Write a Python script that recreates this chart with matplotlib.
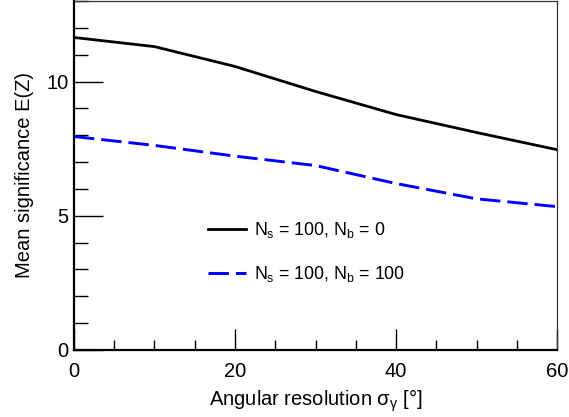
import matplotlib
matplotlib.use("Agg")
import matplotlib.pyplot as plt
from matplotlib.ticker import MultipleLocator

plt.rcParams['font.family'] = ['Liberation Sans', 'DejaVu Sans']
plt.rcParams['mathtext.fontset'] = 'custom'
plt.rcParams['mathtext.rm'] = 'Liberation Sans'
plt.rcParams['mathtext.it'] = 'Liberation Sans:italic'

# angular resolution in degrees
sigma = [0, 10, 20, 30, 40, 50, 60]
# mean significance for the two signal/background cases
z_nb0 = [11.64, 11.30, 10.56, 9.63, 8.77, 8.10, 7.46]
z_nb100 = [7.95, 7.62, 7.22, 6.87, 6.20, 5.63, 5.34]

fig = plt.figure(figsize=(5.69, 4.17), dpi=100)
ax = fig.add_axes([0.130, 0.1607, 0.849, 0.837])

ax.plot(sigma, z_nb0, color='black', lw=2.0,
        label='N$_\\mathregular{s}$ = 100, N$_\\mathregular{b}$ = 0')
ax.plot(sigma, z_nb100, color='#0000ff', lw=2.1, dashes=(7.0, 2.4),
        label='N$_\\mathregular{s}$ = 100, N$_\\mathregular{b}$ = 100')

ax.set_xlim(0, 60)
ax.set_ylim(0, 13)
ax.xaxis.set_major_locator(MultipleLocator(20))
ax.xaxis.set_minor_locator(MultipleLocator(5))
ax.yaxis.set_major_locator(MultipleLocator(5))
ax.yaxis.set_minor_locator(MultipleLocator(1))

ax.tick_params(axis='x', which='major', direction='in', length=15, width=1, labelsize=14.5, pad=9)
ax.tick_params(axis='x', which='minor', direction='in', length=7, width=1)
ax.tick_params(axis='y', which='major', direction='in', length=21, width=1, labelsize=14.5, pad=4)
ax.tick_params(axis='y', which='minor', direction='in', length=10, width=1)

for side in ['left', 'bottom']:
    ax.spines[side].set_linewidth(1.6)
for side in ['top', 'right']:
    ax.spines[side].set_linewidth(0.9)
    ax.spines[side].set_color('#333333')

ax.set_xlabel('Angular resolution σ$_{\\mathregular{γ}}$ [°]', fontsize=14.5, labelpad=4)
ax.set_ylabel('Mean significance E(Z)', fontsize=14.5, labelpad=9)

ax.legend(loc='upper left', bbox_to_anchor=(0.245, 0.418), frameon=False,
          fontsize=12.8, handlelength=2.1, labelspacing=1.36, handletextpad=0.45)

fig.savefig('out.png', dpi=100)
